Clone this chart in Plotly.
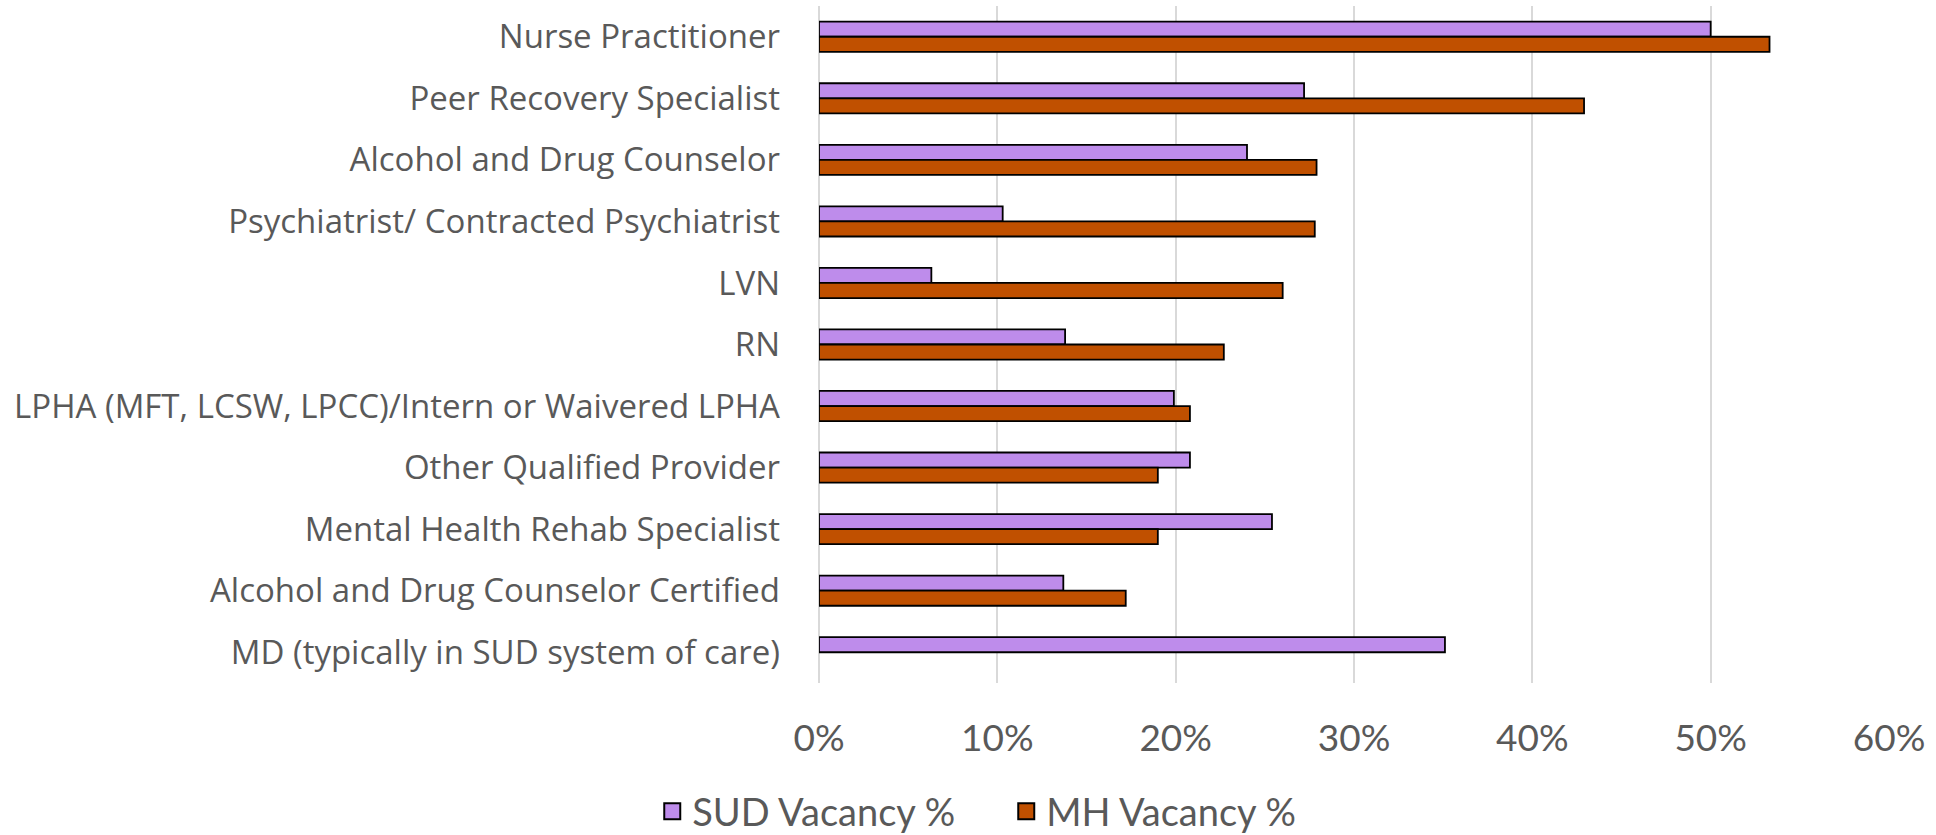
import plotly.graph_objects as go

categories = [
    "Nurse Practitioner",
    "Peer Recovery Specialist",
    "Alcohol and Drug Counselor",
    "Psychiatrist/ Contracted Psychiatrist",
    "LVN",
    "RN",
    "LPHA (MFT, LCSW, LPCC)/Intern or Waivered LPHA",
    "Other Qualified Provider",
    "Mental Health Rehab Specialist",
    "Alcohol and Drug Counselor Certified",
    "MD (typically in SUD system of care)",
]
sud_vacancy = [0.500, 0.272, 0.240, 0.103, 0.063, 0.138, 0.199, 0.208, 0.254, 0.137, 0.351]
mh_vacancy = [0.533, 0.429, 0.279, 0.278, 0.260, 0.227, 0.208, 0.190, 0.190, 0.172, None]
x_ticks = [0, 0.1, 0.2, 0.3, 0.4, 0.5, 0.6]
series_names = ["SUD Vacancy %", "MH Vacancy %"]
series_colors = ["#BE8CEB", "#C05000"]

W, H = 1936, 835
L, R, T, B = 819, 47, 6, 152

fig = go.Figure()
for name, vals, col in zip(series_names, [sud_vacancy, mh_vacancy], series_colors):
    fig.add_trace(go.Bar(
        y=categories, x=vals, name=name, orientation="h",
        marker=dict(color=col, line=dict(color="#000000", width=1.8)),
        showlegend=False,
    ))
for name, col in zip(series_names, series_colors):
    fig.add_trace(go.Scatter(
        x=[None], y=[None], mode="markers", name=name,
        marker=dict(symbol="square", size=24, color=col,
                    line=dict(color="#000000", width=2)),
    ))

fig.update_layout(
    width=W, height=H,
    margin=dict(l=L, r=R, t=T, b=B, autoexpand=False),
    paper_bgcolor="white", plot_bgcolor="white",
    barmode="group", bargap=0.51, bargroupgap=0,
    font=dict(family="Lato", color="#595959", size=34),
    legend=dict(orientation="h", x=0.175, xanchor="center", y=-0.19, yanchor="middle",
                font=dict(family="Lato", size=38, color="#595959"),
                itemsizing="trace", itemwidth=30, traceorder="normal",
                entrywidth=309, entrywidthmode="pixels"),
    xaxis=dict(range=[0, 0.6], tickvals=x_ticks, tickformat=".0%",
               showgrid=True, gridcolor="#D9D9D9", gridwidth=1.5,
               zeroline=True, zerolinecolor="#D9D9D9", zerolinewidth=1.5,
               showline=False, ticks="", ticklabelstandoff=30, automargin=False,
               tickfont=dict(family="Lato", size=37, color="#595959"),
               fixedrange=True),
    yaxis=dict(autorange="reversed", showgrid=False, showline=False, ticks="",
               ticklabelstandoff=38, automargin=False,
               tickfont=dict(family="Open Sans", size=33, color="#595959"),
               fixedrange=True),
)

fig.write_html("out.html", config={"displayModeBar": False})
with open("out.html", "r", encoding="utf-8") as f:
    html = f.read()
html = html.replace("<body>", "<body style=\"margin:0;overflow:hidden\">", 1)
with open("out.html", "w", encoding="utf-8") as f:
    f.write(html)
